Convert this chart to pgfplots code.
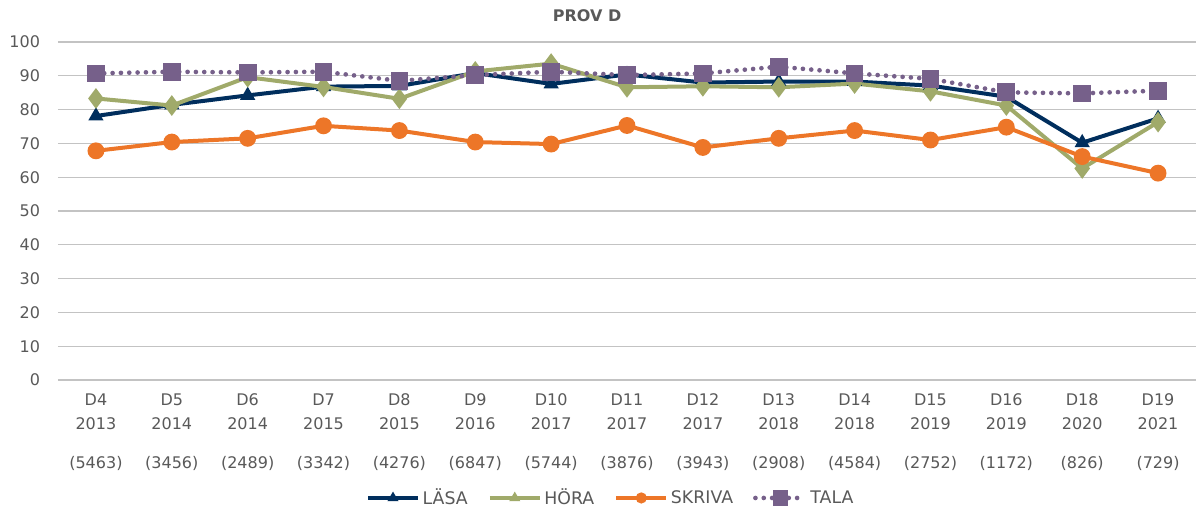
\documentclass[border=0pt]{standalone}
\usepackage{pgfplots}
\pgfplotsset{compat=1.18}
\usepackage{fontspec}
\setmainfont{DejaVu Sans}
\definecolor{lasa}{RGB}{0,46,93}
\definecolor{hora}{RGB}{160,170,106}
\definecolor{skriva}{RGB}{237,118,40}
\definecolor{tala}{RGB}{118,96,138}
\definecolor{txt}{RGB}{89,89,89}
\definecolor{grid}{RGB}{195,195,195}
\begin{document}
\begin{tikzpicture}
\begin{axis}[
  name=ax,
  scale only axis,
  width=853.5pt, height=253.5pt,
  xmin=-0.5, xmax=14.5,
  ymin=0, ymax=100,
  ytick={0,10,...,100},
  xtick={0,...,14},
  xticklabels={
    {D4\\[2pt]2013\\[14pt](5463)},
    {D5\\[2pt]2014\\[14pt](3456)},
    {D6\\[2pt]2014\\[14pt](2489)},
    {D7\\[2pt]2015\\[14pt](3342)},
    {D8\\[2pt]2015\\[14pt](4276)},
    {D9\\[2pt]2016\\[14pt](6847)},
    {D10\\[2pt]2017\\[14pt](5744)},
    {D11\\[2pt]2017\\[14pt](3876)},
    {D12\\[2pt]2017\\[14pt](3943)},
    {D13\\[2pt]2018\\[14pt](2908)},
    {D14\\[2pt]2018\\[14pt](4584)},
    {D15\\[2pt]2019\\[14pt](2752)},
    {D16\\[2pt]2019\\[14pt](1172)},
    {D18\\[2pt]2020\\[14pt](826)},
    {D19\\[2pt]2021\\[14pt](729)}},
  xticklabel style={align=center, text=txt, font=\fontsize{12}{15.5}\selectfont, yshift=-7pt},
  yticklabel style={text=txt, font=\fontsize{12}{14.4}\selectfont, xshift=-10pt},
  /pgf/number format/assume math mode=true,
  major tick length=0pt,
  axis line style={draw=none},
  ymajorgrids,
  grid style={draw=grid, line width=1pt},
  axis x line*=bottom,
  clip=false,
  title={PROV D},
  title style={font=\fontsize{12}{14}\selectfont\bfseries, text=txt, at={(rel axis cs:0.465,1)}, anchor=south, yshift=6pt},
  legend style={at={(rel axis cs:0.486,-0.349)}, anchor=center, draw=none, legend columns=-1,
    font=\fontsize{13}{15}\selectfont, text=txt,
    /tikz/every odd column/.append style={column sep=0pt},
    /tikz/every even column/.append style={column sep=13pt}},
  legend image code/.code={
    \draw[#1, mark repeat=2, mark phase=2] plot coordinates {(0pt,0pt) (18.75pt,0pt) (37.5pt,0pt)};
  },
]
\addplot[lasa, line width=3pt, mark=triangle*, mark size=3.6pt, mark options={solid},
  legend image post style={mark size=1.8pt}] coordinates {
(0,78.1) (1,81.4) (2,84.2) (3,86.8) (4,87.0) (5,90.8) (6,87.6) (7,90.4) (8,88.0) (9,88.3) (10,88.3) (11,87.1) (12,83.8) (13,70.2) (14,77.4)};
\addlegendentry{LÄSA}
\addplot[hora, line width=3pt, mark=diamond*, mark size=5.3pt, mark options={solid},
  legend image post style={mark=triangle*, mark size=1.8pt}] coordinates {
(0,83.3) (1,81.2) (2,89.6) (3,86.7) (4,83.2) (5,91.3) (6,93.6) (7,86.6) (8,86.9) (9,86.6) (10,87.7) (11,85.4) (12,81.2) (13,62.6) (14,76.3)};
\addlegendentry{HÖRA}
\addplot[skriva, line width=3pt, mark=*, mark size=4.8pt, mark options={solid},
  legend image post style={mark size=2.6pt}] coordinates {
(0,67.8) (1,70.4) (2,71.5) (3,75.2) (4,73.8) (5,70.4) (6,69.8) (7,75.3) (8,68.8) (9,71.5) (10,73.8) (11,71.0) (12,74.8) (13,66.1) (14,61.2)};
\addlegendentry{SKRIVA}
\addplot[tala, line width=3.5pt, line cap=round, dash pattern=on 0pt off 6.25pt, mark=square*, mark size=4.9pt, mark options={solid},
  legend image post style={mark size=4pt}] coordinates {
(0,90.7) (1,91.2) (2,91.0) (3,91.2) (4,88.5) (5,90.2) (6,91.2) (7,90.2) (8,90.7) (9,92.7) (10,90.7) (11,89.1) (12,85.1) (13,84.8) (14,85.6)};
\addlegendentry{TALA}
\end{axis}
\pgfresetboundingbox
\path[use as bounding box] ([xshift=-43.5pt,yshift=-97.5pt]ax.south west) rectangle ([yshift=31.5pt]ax.north east);
\end{tikzpicture}
\end{document}
